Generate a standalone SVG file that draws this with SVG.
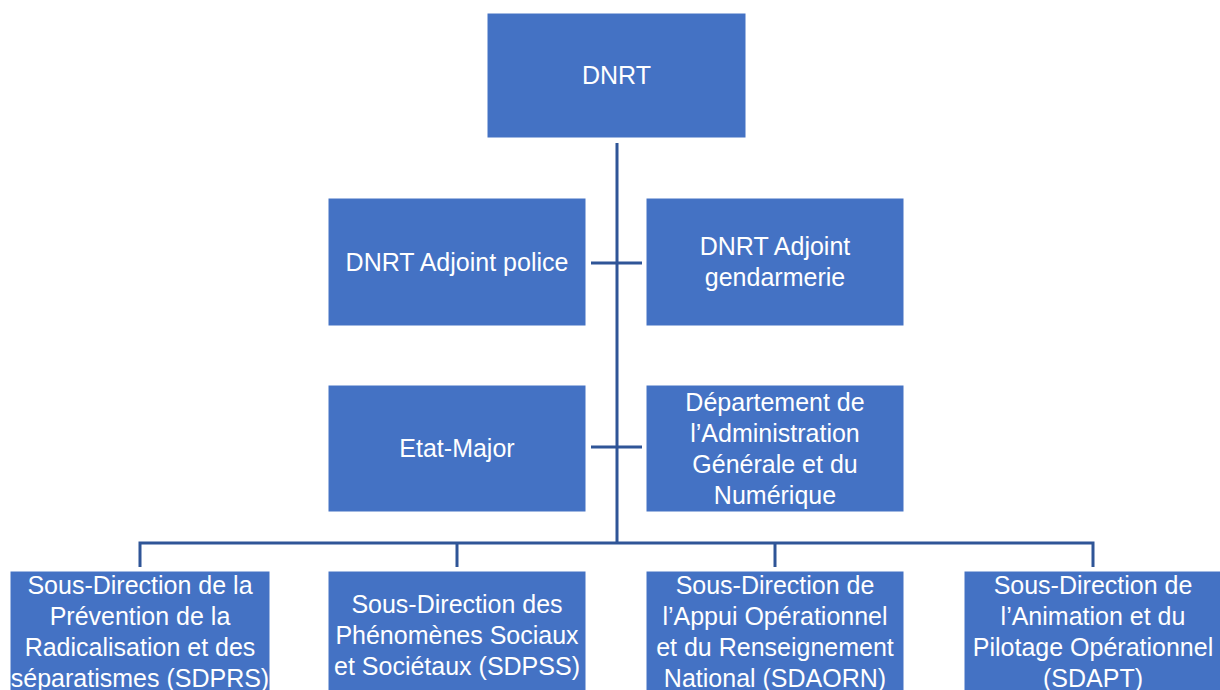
<svg xmlns="http://www.w3.org/2000/svg" width="1220" height="690" viewBox="0 0 1220 690">
<style>
.box{fill:#4472C4;stroke:#ffffff;stroke-width:1}
.t{font-family:"Liberation Sans",Arial,sans-serif;font-size:25px;fill:#ffffff;text-anchor:middle}
.ln{stroke:#2F5597;stroke-width:3;fill:none}
</style>
<rect width="1220" height="690" fill="#ffffff"/>
<g id="connectors">
<path class="ln" d="M617 143 V543"/>
<path class="ln" d="M591 263 H642"/>
<path class="ln" d="M591 447 H642"/>
<path class="ln" d="M140 567 V543 H1093 V567"/>
<path class="ln" d="M457 543 V567"/>
<path class="ln" d="M775 543 V567"/>
</g>
<g id="n-dnrt">
<rect class="box" x="487" y="13" width="259" height="125"/>
<text class="t" x="616.5" y="84">DNRT</text>
</g>
<g id="n-adj-police">
<rect class="box" x="328" y="198" width="258" height="128"/>
<text class="t" x="457" y="271">DNRT Adjoint police</text>
</g>
<g id="n-adj-gend">
<rect class="box" x="646" y="198" width="258" height="128"/>
<text class="t" x="775" y="254.5">DNRT Adjoint</text>
<text class="t" x="775" y="285.5">gendarmerie</text>
</g>
<g id="n-em">
<rect class="box" x="328" y="385" width="258" height="127"/>
<text class="t" x="457" y="457">Etat-Major</text>
</g>
<g id="n-dagn">
<rect class="box" x="646" y="385" width="258" height="127"/>
<text class="t" x="775" y="410.5">Département de</text>
<text class="t" x="775" y="441.5">l’Administration</text>
<text class="t" x="775" y="472.5">Générale et du</text>
<text class="t" x="775" y="503.5">Numérique</text>
</g>
<g id="n-sdprs">
<rect class="box" x="10" y="571" width="260" height="130"/>
<text class="t" x="140" y="594">Sous-Direction de la</text>
<text class="t" x="140" y="625">Prévention de la</text>
<text class="t" x="140" y="656">Radicalisation et des</text>
<text class="t" x="140" y="687">séparatismes (SDPRS)</text>
</g>
<g id="n-sdpss">
<rect class="box" x="328" y="571" width="258" height="130"/>
<text class="t" x="457" y="613">Sous-Direction des</text>
<text class="t" x="457" y="644">Phénomènes Sociaux</text>
<text class="t" x="457" y="675">et Sociétaux (SDPSS)</text>
</g>
<g id="n-sdaorn">
<rect class="box" x="646" y="571" width="258" height="130"/>
<text class="t" x="775" y="594">Sous-Direction de</text>
<text class="t" x="775" y="625">l’Appui Opérationnel</text>
<text class="t" x="775" y="656">et du Renseignement</text>
<text class="t" x="775" y="687">National (SDAORN)</text>
</g>
<g id="n-sdapt">
<rect class="box" x="964" y="571" width="258" height="130"/>
<text class="t" x="1093" y="594">Sous-Direction de</text>
<text class="t" x="1093" y="625">l’Animation et du</text>
<text class="t" x="1093" y="656">Pilotage Opérationnel</text>
<text class="t" x="1093" y="687">(SDAPT)</text>
</g>
</svg>
